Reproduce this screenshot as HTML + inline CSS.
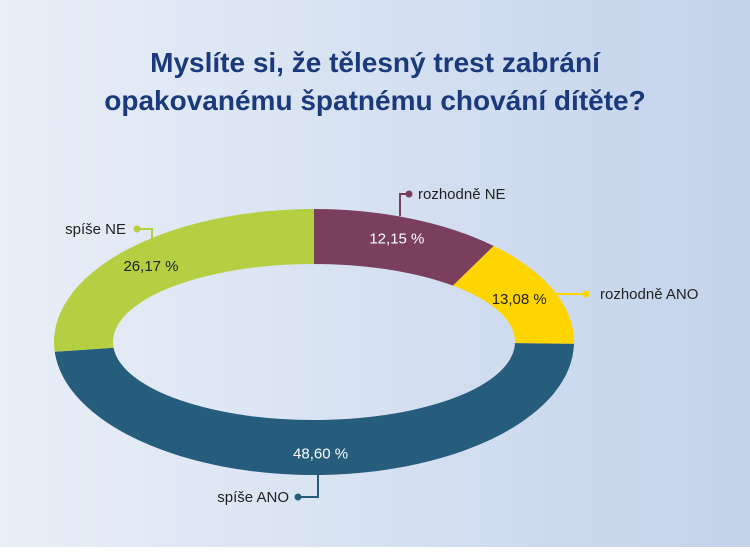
<!DOCTYPE html>
<html><head><meta charset="utf-8"><style>
body{margin:0;width:750px;height:547px;overflow:hidden;font-family:"Liberation Sans",sans-serif;}
</style></head><body>
<svg width="750" height="547" viewBox="0 0 750 547" xmlns="http://www.w3.org/2000/svg">
<defs><linearGradient id="bg" x1="0" y1="0" x2="1" y2="0"><stop offset="0" stop-color="#e9eff8"/><stop offset="1" stop-color="#c3d3eb"/></linearGradient></defs>
<rect width="750" height="547" fill="url(#bg)"/>
<text x="375" y="72" text-anchor="middle" font-size="28" font-weight="bold" fill="#1b3a7c">Myslíte si, že tělesný trest zabrání</text>
<text x="375" y="110" text-anchor="middle" font-size="28" font-weight="bold" fill="#1b3a7c">opakovanému špatnému chování dítěte?</text>
<g id="slices"></g>
<g id="labels"></g>
</svg>
<script>
const categories=["rozhodně NE","rozhodně ANO","spíše ANO","spíše NE"];
const values=[12.15,13.08,48.60,26.17];
const valueLabels=["12,15 %","13,08 %","48,60 %","26,17 %"];
const colors=["#7a3f5c","#ffd500","#275d7c","#b5cf42"];
const textColors=["#fff","#222","#fff","#222"];
const NS="http://www.w3.org/2000/svg";
const cx=314,cy=342,rx=260,ry=133,irx=201,iry=78;
function pt(a,r1,r2){return [cx+r1*Math.sin(a),cy-r2*Math.cos(a)];}
const total=values.reduce((s,v)=>s+v,0);
const g=document.getElementById('slices');
let acc=0;
values.forEach((v,i)=>{
 const a0=acc/total*2*Math.PI;acc+=v;const a1=acc/total*2*Math.PI;
 const big=(a1-a0)>Math.PI?1:0;
 const p0=pt(a0,rx,ry),p1=pt(a1,rx,ry),q1=pt(a1,irx,iry),q0=pt(a0,irx,iry);
 const d=`M${p0[0]},${p0[1]}A${rx},${ry} 0 ${big} 1 ${p1[0]},${p1[1]}L${q1[0]},${q1[1]}A${irx},${iry} 0 ${big} 0 ${q0[0]},${q0[1]}Z`;
 const p=document.createElementNS(NS,'path');
 p.setAttribute('d',d);p.setAttribute('fill',colors[i]);
 
 
 g.appendChild(p);
 const am=(a0+a1)/2;const m=pt(am,(rx+irx)/2-8,(ry+iry)/2+6);
 const t=document.createElementNS(NS,'text');
 t.setAttribute('x',m[0]);t.setAttribute('y',m[1]+5);t.setAttribute('text-anchor','middle');
 t.setAttribute('font-size','15');t.setAttribute('fill',textColors[i]);
 t.textContent=valueLabels[i];
 
 
 g.appendChild(t);
});
const L=document.getElementById('labels');
const leaders=[
 {pts:"409,194 400,194 400,216",dot:[409,194],tx:418,ty:199,anchor:"start"},
 {pts:"586,294 555,294",dot:[586,294],tx:600,ty:299,anchor:"start"},
 {pts:"298,497 318,497 318,475",dot:[298,497],tx:289,ty:502,anchor:"end"},
 {pts:"137,229 152,229 152,256",dot:[137,229],tx:126,ty:234,anchor:"end"}
];
leaders.forEach((l,i)=>{
 const pl=document.createElementNS(NS,'polyline');
 pl.setAttribute('points',l.pts);pl.setAttribute('fill','none');pl.setAttribute('stroke',colors[i]);pl.setAttribute('stroke-width','2');
 
 
 L.appendChild(pl);
 const c=document.createElementNS(NS,'circle');
 c.setAttribute('cx',l.dot[0]);c.setAttribute('cy',l.dot[1]);c.setAttribute('r','3.5');c.setAttribute('fill',colors[i]);
 
 
 L.appendChild(c);
 const t=document.createElementNS(NS,'text');
 t.setAttribute('x',l.tx);t.setAttribute('y',l.ty);t.setAttribute('text-anchor',l.anchor);
 t.setAttribute('font-size','15');t.setAttribute('fill','#222');
 t.textContent=categories[i];
 
 
 L.appendChild(t);
});
</script>
</body></html>
